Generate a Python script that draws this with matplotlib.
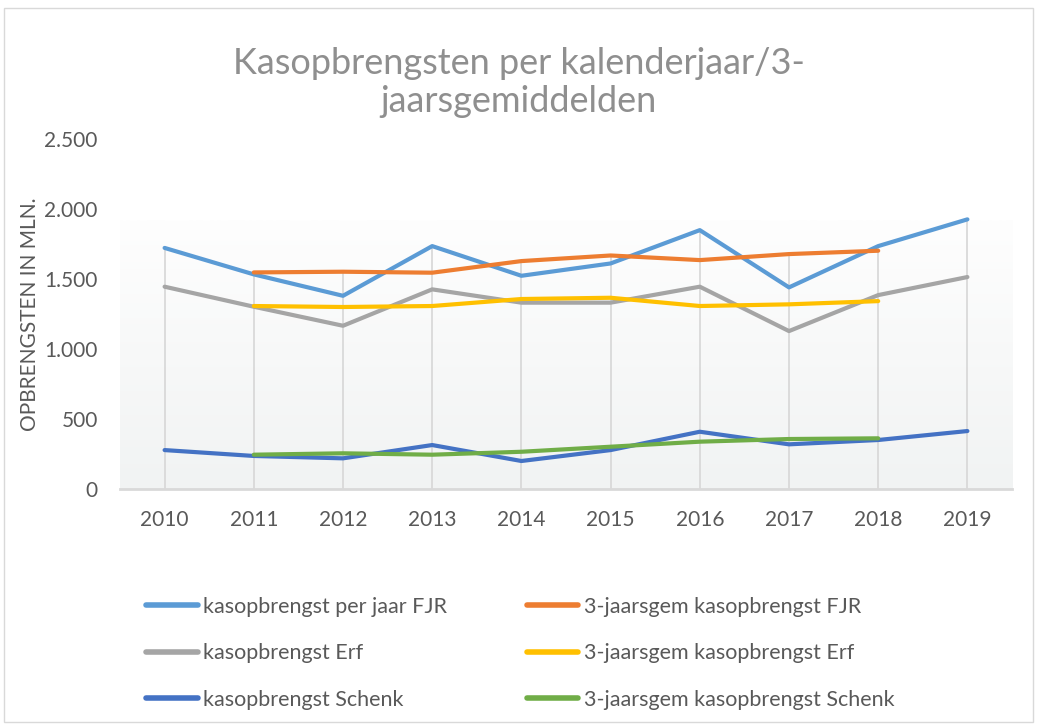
import numpy as np
import matplotlib
matplotlib.use("Agg")
import matplotlib.pyplot as plt
from matplotlib.ticker import FuncFormatter
from matplotlib.patches import Rectangle
from matplotlib.colors import LinearSegmentedColormap

plt.rcParams['font.family'] = ['Lato', 'DejaVu Sans']

years = ['2010', '2011', '2012', '2013', '2014', '2015', '2016', '2017', '2018', '2019']
fjr = [1722, 1533, 1380, 1735, 1523, 1611, 1849, 1440, 1735, 1926]
fjr_3j = [None, 1547, 1552, 1545, 1628, 1668, 1635, 1678, 1702, None]
erf = [1445, 1302, 1166, 1426, 1331, 1331, 1445, 1128, 1385, 1514]
erf_3j = [None, 1307, 1300, 1307, 1357, 1366, 1307, 1319, 1342, None]
schenk = [278, 236, 219, 314, 200, 278, 409, 319, 350, 414]
schenk_3j = [None, 245, 255, 245, 266, 302, 338, 357, 362, None]

def arr(v):
    return np.array([np.nan if x is None else x for x in v], dtype=float)

fig = plt.figure(figsize=(10.37, 7.24), dpi=100)
ax = fig.add_axes([120/1037, 1-489/724, 892/1037, 350/724])

x = np.arange(len(years))
ax.set_xlim(-0.5, len(years) - 0.5)
ax.set_ylim(0, 2500)

# soft gradient in the plot area
grad = np.linspace(0, 1, 256).reshape(-1, 1)
cm = LinearSegmentedColormap.from_list('bg', ['#f1f3f3', '#fefefe'])
ax.imshow(grad, extent=[-0.5, len(years) - 0.5, 0, 1920], aspect='auto',
          origin='lower', cmap=cm, zorder=0)

series = [
    (fjr, '#5B9BD5', 'kasopbrengst per jaar FJR'),
    (fjr_3j, '#ED7D31', '3-jaarsgem kasopbrengst FJR'),
    (erf, '#A5A5A5', 'kasopbrengst Erf'),
    (erf_3j, '#FFC000', '3-jaarsgem kasopbrengst Erf'),
    (schenk, '#4472C4', 'kasopbrengst Schenk'),
    (schenk_3j, '#70AD47', '3-jaarsgem kasopbrengst Schenk'),
]

# drop lines from the highest point down to the axis
tops = np.nanmax(np.vstack([arr(s[0]) for s in series]), axis=0)
ax.vlines(x, 0, tops, color='#d9d9d9', lw=1.3, zorder=1)

lines = []
for vals, col, lab in series:
    ln, = ax.plot(x, arr(vals), color=col, lw=3, label=lab, zorder=3,
                  solid_capstyle='round', solid_joinstyle='round')
    lines.append(ln)

ax.set_xticks(x)
ax.set_xticklabels(years)
ax.set_yticks([0, 500, 1000, 1500, 2000, 2500])
ax.yaxis.set_major_formatter(FuncFormatter(lambda v, p: f"{int(v):,}".replace(',', '.')))
ax.tick_params(length=0, labelsize=15, colors='#595959')
ax.tick_params(axis='x', pad=15)
ax.tick_params(axis='y', pad=16)
for s in ['top', 'left', 'right']:
    ax.spines[s].set_visible(False)
ax.spines['bottom'].set_color('#d9d9d9')
ax.spines['bottom'].set_linewidth(2)

ax.set_ylabel('OPBRENGSTEN IN MLN.', fontsize=15, color='#595959', labelpad=3)

fig.text(0.5, 1-63/724, 'Kasopbrengsten per kalenderjaar/3-', ha='center', va='center',
         fontsize=26, color='#8f8f8f')
fig.text(0.5, 1-101/724, 'jaarsgemiddelden', ha='center', va='center',
         fontsize=26, color='#8f8f8f')

order = [0, 2, 4, 1, 3, 5]
leg = fig.legend([lines[i] for i in order], [lines[i].get_label() for i in order],
                 loc='upper left', bbox_to_anchor=(146/1037, 1-597/724), ncol=2,
                 frameon=False, fontsize=15.5, handlelength=2.4, handletextpad=0.25,
                 columnspacing=3.7, labelspacing=1.22, labelcolor='#595959',
                 borderpad=0, borderaxespad=0)
for h in leg.get_lines():
    h.set_linewidth(4)

fig.patches.append(Rectangle((4/1037, 2/724), 1029/1037, 714/724, transform=fig.transFigure,
                             fill=False, edgecolor='#d9d9d9', lw=1))

fig.savefig('out.png', dpi=100)
